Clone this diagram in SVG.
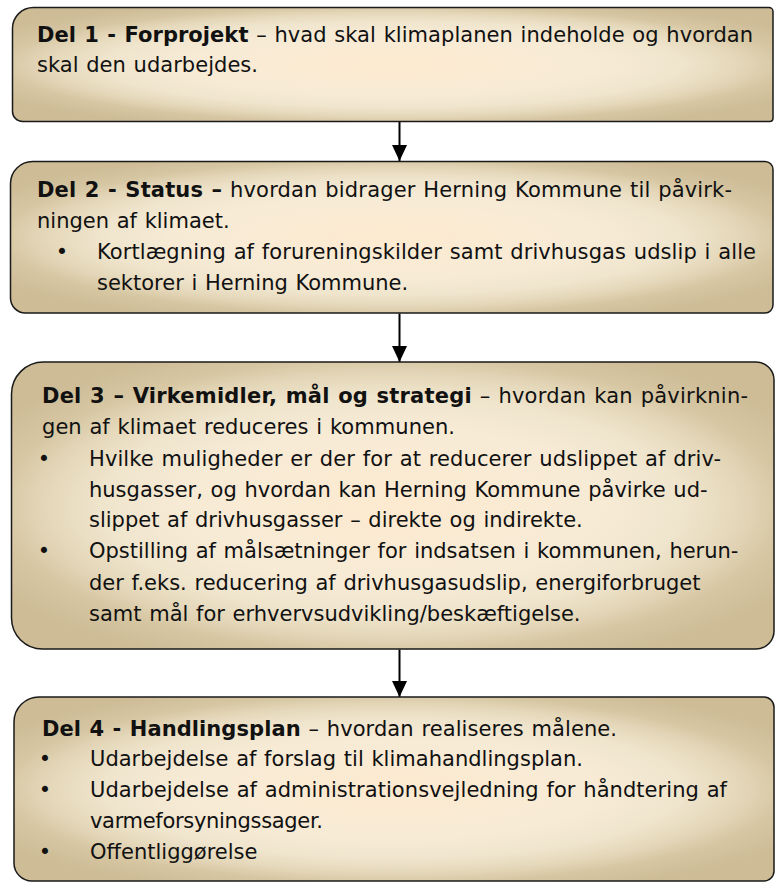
<svg xmlns="http://www.w3.org/2000/svg" width="775" height="883" viewBox="0 0 775 883">
<style>
.box{fill:url(#g);stroke:#1a1a1a;stroke-width:1.5}
.t{font-family:"DejaVu Sans",Verdana,sans-serif;font-size:21px;fill:#111;word-spacing:1px}
.b{font-weight:bold}
.bl{text-anchor:middle}
.con{stroke:#000;stroke-width:2;fill:none;marker-end:url(#ah)}
</style>
<defs>
<radialGradient id="g" cx="0.5" cy="0.5" r="0.6">
<stop offset="0" stop-color="#fdead0"/>
<stop offset="0.45" stop-color="#f7ebd6"/>
<stop offset="0.64" stop-color="#efe4cc"/>
<stop offset="0.76" stop-color="#e4d7b9"/>
<stop offset="0.86" stop-color="#d6c6a2"/>
<stop offset="1" stop-color="#cdbc96"/>
</radialGradient>
<marker id="ah" viewBox="0 0 16 16" markerWidth="16" markerHeight="16" refX="16" refY="8" orient="auto" markerUnits="userSpaceOnUse">
<path d="M0 0.5 L16 8 L0 15.5 Z" fill="#000"/>
</marker>
</defs>

<g id="connectors">
<path class="con" d="M399.5 122 V161"/>
<path class="con" d="M399.5 313.5 V362"/>
<path class="con" d="M399.5 649.5 V697"/>
</g>

<g id="del1">
<path class="box" d="M33.5 7.5 H769 A4 4 0 0 1 773 11.5 V118.5 A3 3 0 0 1 770 121.5 H22.5 A10 10 0 0 1 12.5 111.5 V28.5 A21 21 0 0 1 33.5 7.5 Z"/>
<text class="t" x="37" y="42" textLength="716"><tspan class="b">Del 1 - Forprojekt</tspan> – hvad skal klimaplanen indeholde og hvordan</text>
<text class="t" x="37" y="72" textLength="221">skal den udarbejdes.</text>
</g>

<g id="del2">
<path class="box" d="M32.5 161.5 H765 A8 8 0 0 1 773 169.5 V305 A8 8 0 0 1 765 313 H25.5 A15 15 0 0 1 10.5 298 V183.5 A22 22 0 0 1 32.5 161.5 Z"/>
<text class="t" x="37" y="197" textLength="695"><tspan class="b">Del 2 - Status –</tspan> hvordan bidrager Herning Kommune til påvirk-</text>
<text class="t" x="37" y="228">ningen af klimaet.</text>
<text class="t bl" x="62" y="259">•</text>
<text class="t" x="97" y="259" textLength="659">Kortlægning af forureningskilder samt drivhusgas udslip i alle</text>
<text class="t" x="97" y="290">sektorer i Herning Kommune.</text>
</g>

<g id="del3">
<path class="box" d="M43.5 362 H756 A18 18 0 0 1 774 380 V631 A18 18 0 0 1 756 649 H42.5 A31 31 0 0 1 11.5 618 V394 A32 32 0 0 1 43.5 362 Z"/>
<text class="t" x="42" y="403" textLength="706"><tspan class="b">Del 3 – Virkemidler, mål og strategi</tspan> – hvordan kan påvirknin-</text>
<text class="t" x="42" y="434" textLength="413">gen af klimaet reduceres i kommunen.</text>
<text class="t bl" x="44" y="466">•</text>
<text class="t" x="89" y="466" textLength="632">Hvilke muligheder er der for at reducerer udslippet af driv-</text>
<text class="t" x="89" y="497">husgasser, og hvordan kan Herning Kommune påvirke ud-</text>
<text class="t" x="89" y="527">slippet af drivhusgasser – direkte og indirekte.</text>
<text class="t bl" x="44" y="558">•</text>
<text class="t" x="89" y="558">Opstilling af målsætninger for indsatsen i kommunen, herun-</text>
<text class="t" x="89" y="590">der f.eks. reducering af drivhusgasudslip, energiforbruget</text>
<text class="t" x="89" y="621">samt mål for erhvervsudvikling/beskæftigelse.</text>
</g>

<g id="del4">
<path class="box" d="M39 697 H764 A10 10 0 0 1 774 707 V871 A10 10 0 0 1 764 881 H32 A18 18 0 0 1 14 863 V722 A25 25 0 0 1 39 697 Z"/>
<text class="t" x="42" y="736" textLength="575"><tspan class="b">Del 4 - Handlingsplan</tspan> – hvordan realiseres målene.</text>
<text class="t bl" x="45" y="766">•</text>
<text class="t" x="90" y="766" textLength="493">Udarbejdelse af forslag til klimahandlingsplan.</text>
<text class="t bl" x="45" y="797">•</text>
<text class="t" x="90" y="797" textLength="637">Udarbejdelse af administrationsvejledning for håndtering af</text>
<text class="t" x="90" y="828" textLength="233">varmeforsyningssager.</text>
<text class="t bl" x="45" y="859">•</text>
<text class="t" x="90" y="859">Offentliggørelse</text>
</g>
</svg>
